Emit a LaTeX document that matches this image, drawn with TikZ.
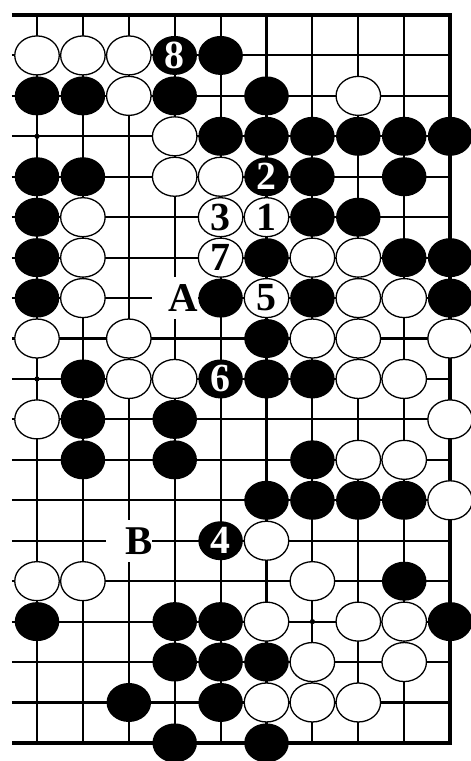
\documentclass[tikz,border=0pt]{standalone}
\usepackage{fontspec}
\setmainfont{Liberation Serif}
\usetikzlibrary{shapes.geometric}

\tikzset{
  stone/.style={ellipse, minimum width=44.5bp, minimum height=39bp, inner sep=0pt,
    font=\fontsize{40}{40}\selectfont\bfseries},
  bstone/.style={stone, fill=black, text=white},
  wstone/.style={stone, draw=black, fill=white, line width=1.3bp},
  gridline/.style={line width=2.1bp},
  boardedge/.style={line width=4bp},
  lblbox/.style={fill=white, minimum width=46bp, minimum height=42bp, inner sep=0pt},
  lbltext/.style={inner sep=0pt, font=\fontsize{41}{41}\selectfont\bfseries},
}

\begin{document}
\begin{tikzpicture}[x=45.9bp, y=-40.44bp]
\useasboundingbox (0.1939,0.6291) rectangle (10.4553,19.4471);
% the lines of the board
\foreach \r in {2,...,18} \draw[gridline] (0.45,\r) -- (10,\r);
\foreach \c in {1,...,9} \draw[gridline] (\c,1) -- (\c,19);
\draw[boardedge] (0.45,1) -- (10,1) -- (10,19) -- (0.45,19);
% star points
\foreach \c/\r in {1/4,1/10,1/16,7/4,7/10,7/16} \fill (\c,\r) circle (2.6bp);
% points A and B
\node[lblbox] (A) at (4,8) {};
\node[lbltext] (Atext) at ([xshift=9bp]A.center) {A};
\node[lblbox] (B) at (3,14) {};
\node[lbltext] (Btext) at ([xshift=10bp]B.center) {B};
% black stones
\foreach \c/\r in {5/2, 1/3,2/3,4/3,6/3, 5/4,6/4,7/4,8/4,9/4,10/4, 1/5,2/5,7/5,9/5,
    1/6,7/6,8/6, 1/7,6/7,9/7,10/7, 1/8,5/8,7/8,10/8, 6/9, 2/10,6/10,7/10,
    2/11,4/11, 2/12,4/12,7/12, 6/13,7/13,8/13,9/13, 9/15, 1/16,4/16,5/16,10/16,
    4/17,5/17,6/17, 3/18,5/18, 4/19,6/19}
  \node[bstone] (b\c-\r) at (\c,\r) {};
% white stones
\foreach \c/\r in {1/2,2/2,3/2, 3/3,8/3, 4/4, 4/5,5/5, 2/6, 2/7,7/7,8/7, 2/8,8/8,9/8,
    1/9,3/9,7/9,8/9,10/9, 3/10,4/10,8/10,9/10, 1/11,10/11, 8/12,9/12, 10/13, 6/14,
    1/15,2/15,7/15, 6/16,8/16,9/16, 7/17,9/17, 6/18,7/18,8/18}
  \node[wstone] (w\c-\r) at (\c,\r) {};
% numbered moves
\node[wstone] (m1) at (6,6) {1};
\node[bstone] (m2) at (6,5) {2};
\node[wstone] (m3) at (5,6) {3};
\node[bstone] (m4) at (5,14) {4};
\node[wstone] (m5) at (6,8) {5};
\node[bstone] (m6) at (5,10) {6};
\node[wstone] (m7) at (5,7) {7};
\node[bstone] (m8) at (4,2) {8};
\end{tikzpicture}
\end{document}
